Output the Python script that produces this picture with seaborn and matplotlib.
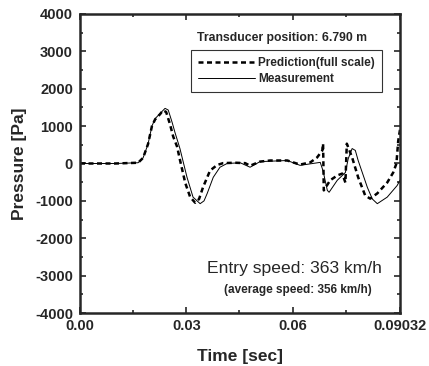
import pandas as pd
import matplotlib.pyplot as plt
import seaborn as sns
from matplotlib.ticker import MultipleLocator, FixedLocator

# prediction (full scale)
t_pred = [0.0, 0.0100, 0.0164, 0.0178, 0.0192, 0.0203, 0.0212, 0.0226, 0.0234, 0.0243,
          0.0254, 0.0263, 0.0274, 0.0282, 0.0297, 0.0311, 0.0325, 0.0336, 0.0347,
          0.0367, 0.0387, 0.0404, 0.0438, 0.0466, 0.0480, 0.0508, 0.0537, 0.0585,
          0.0621, 0.0650, 0.0669, 0.0684, 0.0686, 0.0688, 0.0706, 0.0726, 0.0740,
          0.0749, 0.0753, 0.0768, 0.0785, 0.0805, 0.0819, 0.0839, 0.0867, 0.0884,
          0.0893, 0.0898, 0.0903]
p_pred = [0, 0, 20, 150, 520, 1000, 1180, 1320, 1420, 1380,
          1050, 720, 450, 100, -520, -900, -1050, -950, -640,
          -190, -40, 10, 20, 10, -60, 50, 80, 80,
          -30, 30, 160, 350, 530, -720, -450, -320, -270,
          -510, 530, 160, -370, -860, -940, -800, -510, -240,
          0, 600, 900]

# measurement
t_meas = [0.0, 0.0100, 0.0164, 0.0178, 0.0192, 0.0203, 0.0212, 0.0226, 0.0240, 0.0249,
          0.0260, 0.0268, 0.0282, 0.0302, 0.0319, 0.0339, 0.0350, 0.0359, 0.0376,
          0.0395, 0.0415, 0.0452, 0.0480, 0.0508, 0.0585, 0.0621, 0.0678, 0.0686,
          0.0698, 0.0703, 0.0726, 0.0749, 0.0757, 0.0768, 0.0777, 0.0785, 0.0811,
          0.0825, 0.0839, 0.0867, 0.0895, 0.0903]
p_meas = [0, 0, 20, 150, 520, 1000, 1200, 1340, 1475, 1430,
          1100, 830, 400, -370, -900, -1075, -1000, -800, -370,
          -100, 0, 20, -100, 50, 80, -50, 30, -200,
          -720, -770, -450, -240, 130, 400, 350, 80, -640,
          -950, -1075, -900, -590, -450]

x_ticks = [0.0, 0.03, 0.06, 0.09032]
x_tick_labels = ['0.00', '0.03', '0.06', '0.09032']

sns.set_style('ticks')
plt.rcParams['font.family'] = ['Liberation Sans', 'DejaVu Sans']
plt.rcParams['axes.unicode_minus'] = False

df_pred = pd.DataFrame({'Time': t_pred, 'Pressure': p_pred})
df_meas = pd.DataFrame({'Time': t_meas, 'Pressure': p_meas})

fig = plt.figure(figsize=(4.29, 3.66), dpi=100)
ax = fig.add_axes([0.1865, 0.1448, 0.746, 0.817])

sns.lineplot(data=df_pred, x='Time', y='Pressure', ax=ax, color='black', lw=1.8,
             linestyle=(0, (2.0, 1.4)), sort=False, estimator=None,
             label='Prediction(full scale)')
sns.lineplot(data=df_meas, x='Time', y='Pressure', ax=ax, color='black', lw=0.7,
             sort=False, estimator=None, label='Measurement')

ax.set_xlim(0, 0.09032)
ax.set_ylim(-4000, 4000)
ax.xaxis.set_major_locator(FixedLocator(x_ticks))
ax.set_xticklabels(x_tick_labels)
ax.xaxis.set_minor_locator(FixedLocator([0.015, 0.045, 0.075]))
ax.yaxis.set_major_locator(MultipleLocator(1000))
ax.yaxis.set_minor_locator(MultipleLocator(500))
ax.tick_params(which='both', direction='in', top=True, right=True, width=1.2,
               labelsize=10.5)
ax.tick_params(axis='x', pad=4)
ax.tick_params(axis='y', pad=5)
ax.tick_params(which='major', length=4)
ax.tick_params(which='minor', length=2)
for lab in ax.get_xticklabels() + ax.get_yticklabels():
    lab.set_fontweight('bold')
for sp in ax.spines.values():
    sp.set_linewidth(1.8)

ax.set_xlabel('Time [sec]', fontsize=12.5, fontweight='bold', labelpad=12)
ax.set_ylabel('Pressure [Pa]', fontsize=12.5, fontweight='bold', labelpad=6)

leg = ax.legend(loc='upper right', bbox_to_anchor=(0.944, 0.88), frameon=True,
                fancybox=False, edgecolor='black', handlelength=4.8,
                handletextpad=0.3, borderpad=0.6, labelspacing=0.35,
                borderaxespad=0, prop={'weight': 'bold', 'size': 8.5})
leg.get_frame().set_linewidth(0.8)

ax.text(0.366, 0.92, 'Transducer position: 6.790 m', transform=ax.transAxes,
        fontsize=8.8, fontweight='bold', va='center')
ax.text(0.944, 0.15, 'Entry speed: 363 km/h', transform=ax.transAxes,
        fontsize=12.6, ha='right', va='center')
ax.text(0.9125, 0.077, '(average speed: 356 km/h)', transform=ax.transAxes,
        fontsize=8.5, fontweight='bold', ha='right', va='center')

fig.savefig('out.png', dpi=100)
